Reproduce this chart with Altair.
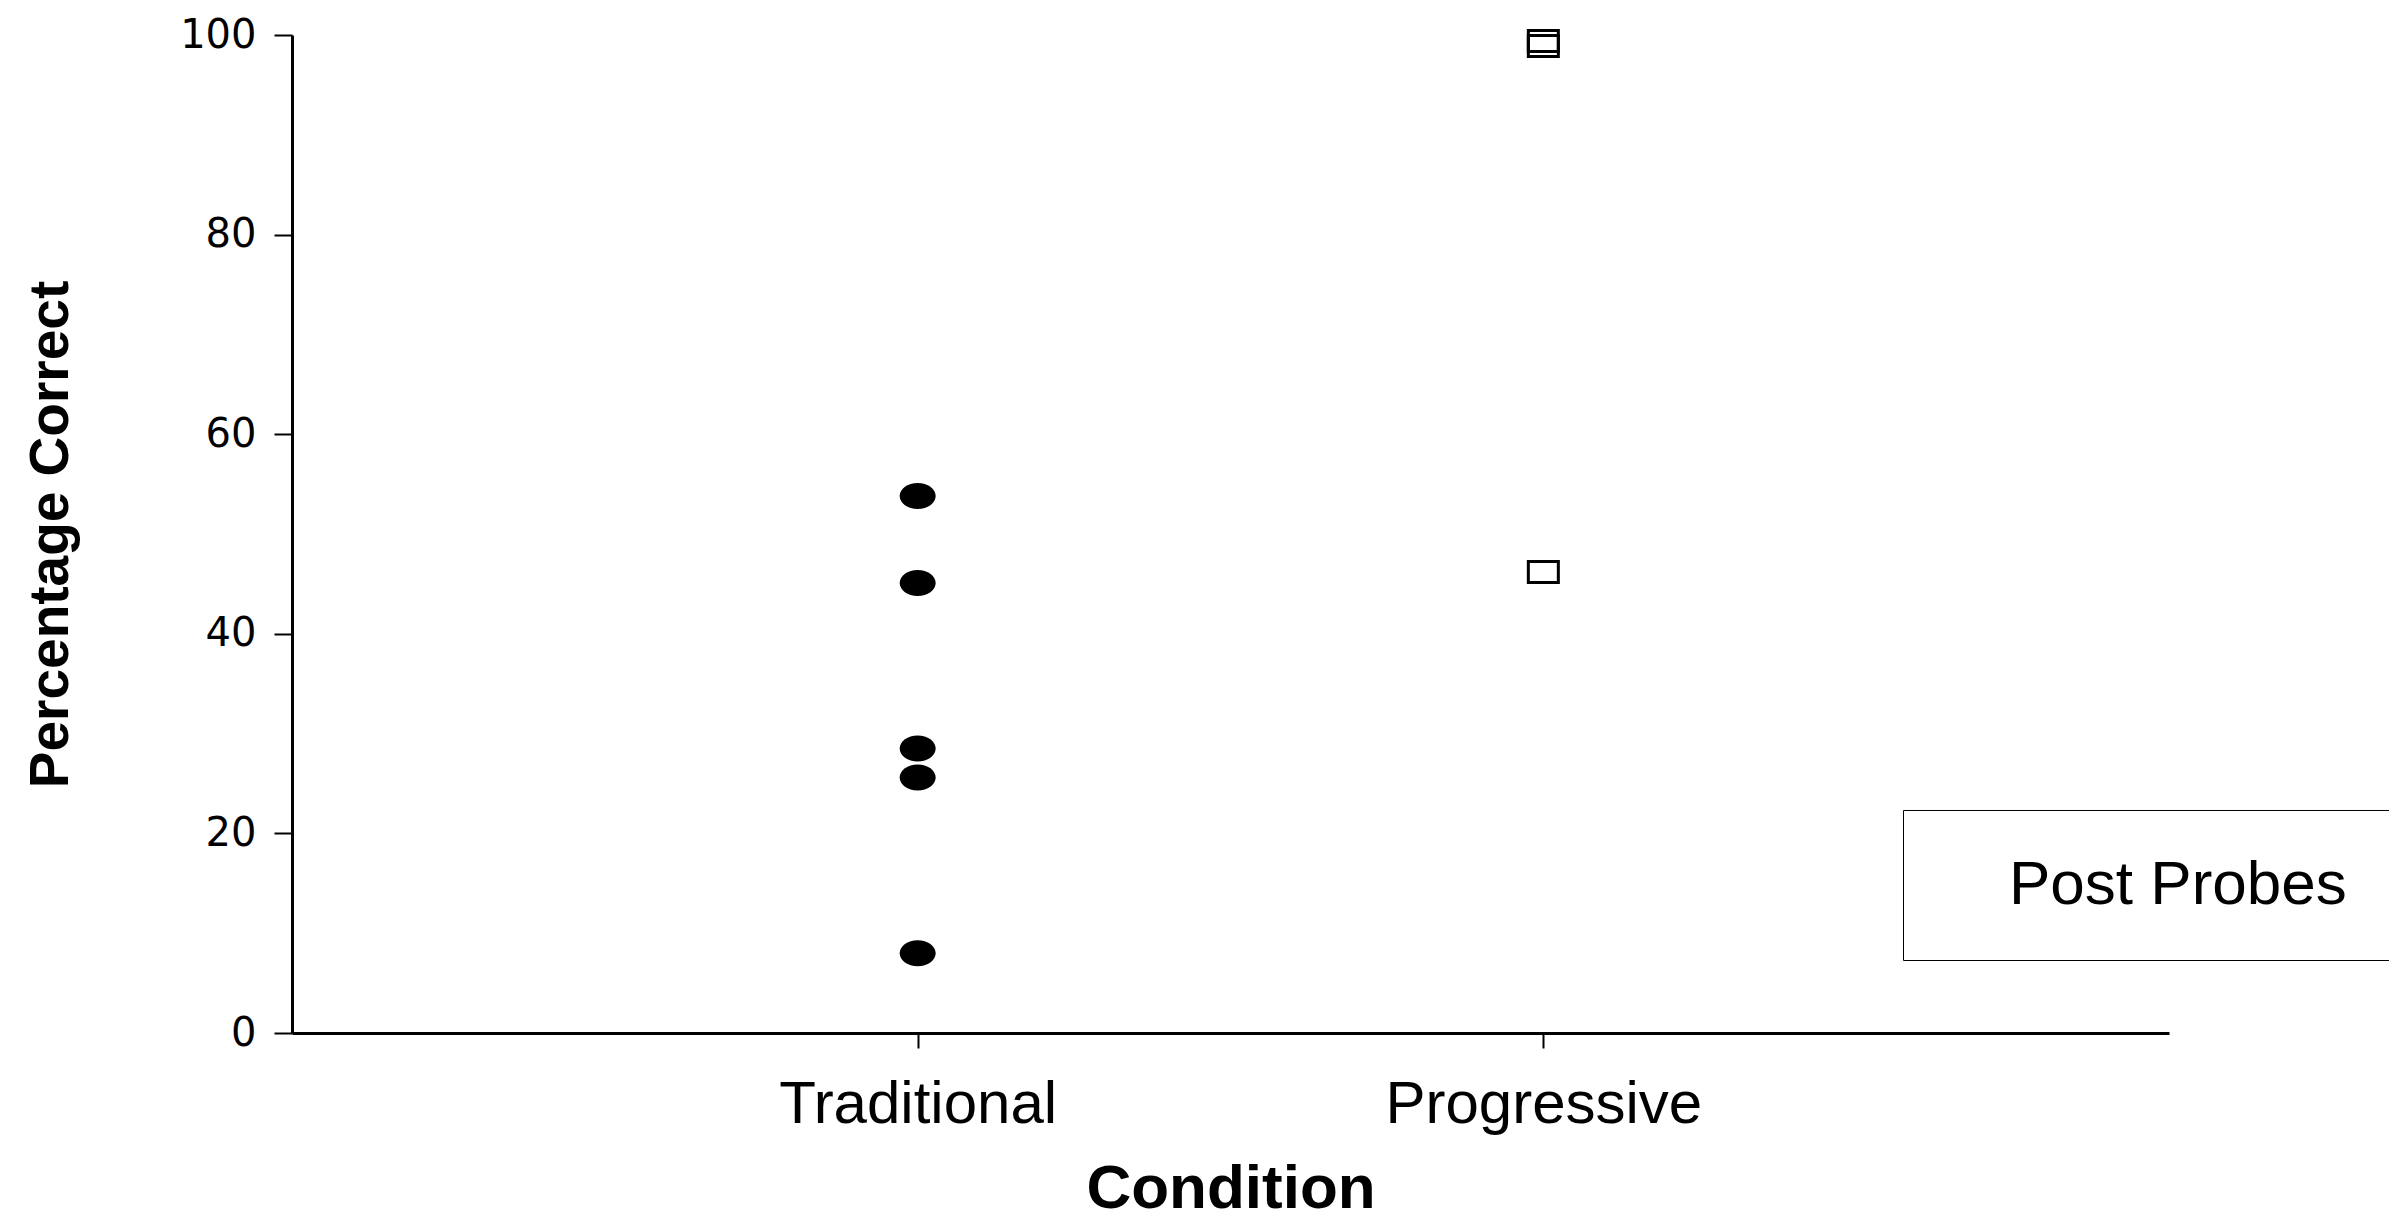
import altair as alt
import pandas as pd

conditions = ["Traditional", "Progressive"]
traditional_values = [53.8, 45.1, 28.5, 25.6, 8.0]
progressive_values = [99.4, 98.9, 46.2]
series_label = "Post Probes"
y_ticks = [0, 20, 40, 60, 80, 100]

df = pd.DataFrame({
    "Condition": ["Traditional"] * len(traditional_values) + ["Progressive"] * len(progressive_values),
    "Percentage Correct": traditional_values + progressive_values,
})
df["series"] = series_label

FONT = "Liberation Sans"
# symbol paths drawn at a small nominal size, scaled up inside the path
ELLIPSE = "M -9 0 A 9 6.5 0 1 1 9 0 A 9 6.5 0 1 1 -9 0 Z"
RECT = "M -7.5 -5.25 L 7.5 -5.25 L 7.5 5.25 L -7.5 5.25 Z"

x_enc = alt.X(
    "Condition:N",
    sort=conditions,
    scale=alt.Scale(type="point", padding=1, domain=conditions),
    axis=alt.Axis(
        title="Condition", labelAngle=0, tickSize=15, labelPadding=27,
        titlePadding=24, titleFontSize=62, titleFontWeight="bold", labelFontSize=60,
        labelLimit=2000,
    ),
)
y_enc = alt.Y(
    "Percentage Correct:Q",
    scale=alt.Scale(domain=[0, 100], nice=False),
    axis=alt.Axis(
        title="Percentage Correct", values=y_ticks, tickSize=18, labelPadding=18,
        titlePadding=100, titleFontSize=55, titleFontWeight="bold", labelFontSize=40,
        labelFont="DejaVu Sans", grid=False, labelLimit=2000,
    ),
)
color_enc = alt.Color(
    "series:N",
    scale=alt.Scale(range=["black"]),
    legend=alt.Legend(
        title=None, orient="none", legendX=1611, legendY=775,
        strokeColor="black", padding=44, symbolSize=1, symbolOpacity=0,
        symbolStrokeWidth=0, labelOffset=0, labelFontSize=62, labelFont=FONT,
        labelColor="black", fillColor="white", labelLimit=2000,
    ),
)

base = alt.Chart(df)
circles = base.transform_filter(alt.datum.Condition == "Traditional").mark_point(
    shape=ELLIPSE, size=16, filled=True, opacity=1, strokeWidth=0
).encode(x=x_enc, y=y_enc, color=color_enc)
squares = base.transform_filter(alt.datum.Condition == "Progressive").mark_point(
    shape=RECT, size=16, filled=False, opacity=1, strokeWidth=3
).encode(x=x_enc, y=y_enc, color=color_enc)

chart = alt.layer(circles, squares).properties(
    width=1877, height=998,
    autosize=alt.AutoSizeParams(type="none"),
    padding={"left": 284, "top": 27, "right": 220, "bottom": 188},
    background="white",
).configure_view(stroke=None).configure_axis(
    labelFont=FONT, titleFont=FONT, labelColor="black", titleColor="black",
    domainColor="black", tickColor="black", domainWidth=3, tickWidth=2,
)

chart.save("out.html", embed_options={"renderer": "svg", "actions": False})
